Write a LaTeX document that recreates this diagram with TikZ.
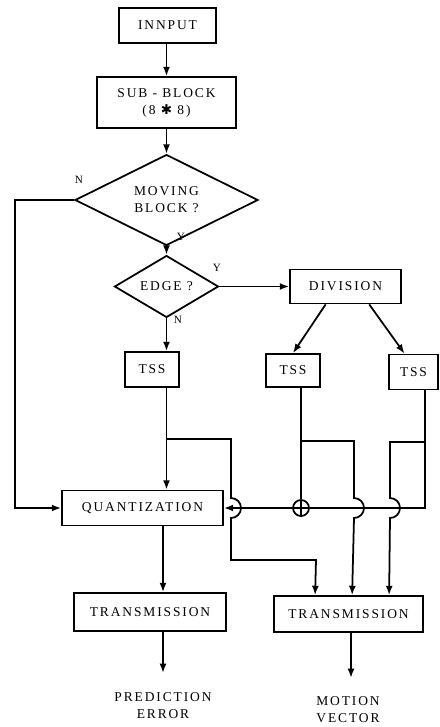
\documentclass[tikz,border=0pt]{standalone}
\usepackage{fontspec}
\setmainfont{Liberation Serif}[LetterSpace=14]
\newfontfamily\starfont{DejaVu Sans}
\usetikzlibrary{positioning,shapes.geometric,arrows.meta,calc}

\begin{document}
\begin{tikzpicture}[x=0.03cm, y=-0.03cm, line width=1.5pt, >={Latex[length=2.8mm,width=2.1mm]},
  every node/.style={font=\fontsize{11.5}{14.5}\selectfont},
  blockbox/.style={draw,line width=1.5pt,align=center,inner sep=0pt},
  testbox/.style={draw,diamond,line width=1.5pt,align=center,inner sep=0pt},
  tag/.style={font=\fontsize{9.5}{11}\selectfont}]
\useasboundingbox (0,0) rectangle (439,727);
% main column
\node[blockbox,minimum width=2.91cm,minimum height=1.05cm] (inp) at (167.5,25.5) {INNPUT};
\node[blockbox,minimum width=4.17cm,minimum height=1.53cm] (sub) at (166.5,102.5) {SUB - BLOCK\\(8 {\starfont ✱} 8)};
\node[testbox,minimum width=5.49cm,minimum height=1.68cm] (mov) at (166.5,200) {MOVING\\BLOCK ?};
\node[testbox,minimum width=3.12cm,minimum height=1.53cm] (edge) at (166.5,286.5) {EDGE ?};
\node[blockbox,minimum width=3.33cm,minimum height=1.02cm] (div) at (345.5,286.5) {DIVISION};
\node[blockbox,minimum width=1.62cm,minimum height=1.05cm] (tss1) at (152,369.5) {TSS};
\node[blockbox,minimum width=1.62cm,minimum height=0.99cm] (tss2) at (293,370.5) {TSS};
\node[blockbox,minimum width=1.47cm,minimum height=1.05cm] (tss3) at (413.5,372) {TSS};
\node[blockbox,minimum width=4.83cm,minimum height=1.05cm] (quant) at (142.5,508) {QUANTIZATION};
\node[blockbox,minimum width=4.56cm,minimum height=1.14cm] (tr1) at (150,612) {TRANSMISSION};
\node[blockbox,minimum width=4.47cm,minimum height=1.08cm] (tr2) at (348.5,614) {TRANSMISSION};
\node[draw,circle,minimum size=0.48cm,inner sep=0pt,
  path picture={\draw (path picture bounding box.north) -- (path picture bounding box.south)
    (path picture bounding box.west) -- (path picture bounding box.east);}] (sum) at (301,508) {};
\node[align=center] (out1) at (163,706) {PREDICTION\\ERROR};
\node[align=center] (out2) at (348,710) {MOTION\\VECTOR};
% branch labels
\node[tag] (movn) at (79,180) {N};
\node[tag] (movy) at (181,237) {Y};
\node[tag] (edgey) at (217,268) {Y};
\node[tag] (edgen) at (178,320) {N};
% helper points
\coordinate (fb) at (15,200);
\coordinate (t1) at (edge.south |- tss1.south);
\coordinate (t2) at ($(tss2.south)+(8,0)$);
\coordinate (t3) at ($(tss3.south)+(11.5,0)$);
\coordinate (b1) at (166.5,439);
\coordinate (b2) at (301,441);
\coordinate (b3) at (425,442);
\coordinate (d1) at ($(tr2.north west)+(42,0)$);
\coordinate (d2) at ($(tr2.north west)+(79,0)$);
\coordinate (d3) at ($(tr2.north west)+(116,0)$);
\coordinate (q) at ($(quant.south)+(20.5,0)$);
\coordinate (pe) at (163,673);
\coordinate (mv) at (351,678);
% connectors
\draw[->] (sub.north |- inp.south) -- (sub.north);
\draw[->] (sub.south) -- (mov.north);
\draw[->] (mov.south) -- (edge.north);
\draw[->] (edge.east) -- (div.west);
\draw[->] (edge.south) -- (edge.south |- tss1.north);
\draw[->] (div.222) -- (tss2.north);
\draw[->] (div.323) -- (tss3.116);
\draw[->] (mov.west) -- (fb) |- (quant.west);
\draw[->] (t1) -- (t1 |- quant.north);
\draw (t2) -- (sum.north);
\draw (t3) -- (t3 |- sum) -- (sum.east);
\draw[->] (sum.west) -- (quant.east);
\draw[->] (b1) -- (231,439) -- (231,498) arc[start angle=90,end angle=-90,radius=0.3cm] -- (231,560) -- (316,560) -- (d1);
\draw[->] (b2) -- (354,441) -- (354,498) arc[start angle=90,end angle=-90,radius=0.3cm] -- (d2);
\draw[->] (b3) -- (390,442) -- (390,498) arc[start angle=90,end angle=-90,radius=0.3cm] -- (d3);
\draw[->] (q) -- (q |- tr1.north);
\draw[->] (q |- tr1.south) -- (pe);
\draw[->] (mv |- tr2.south) -- (mv);
\end{tikzpicture}
\end{document}
